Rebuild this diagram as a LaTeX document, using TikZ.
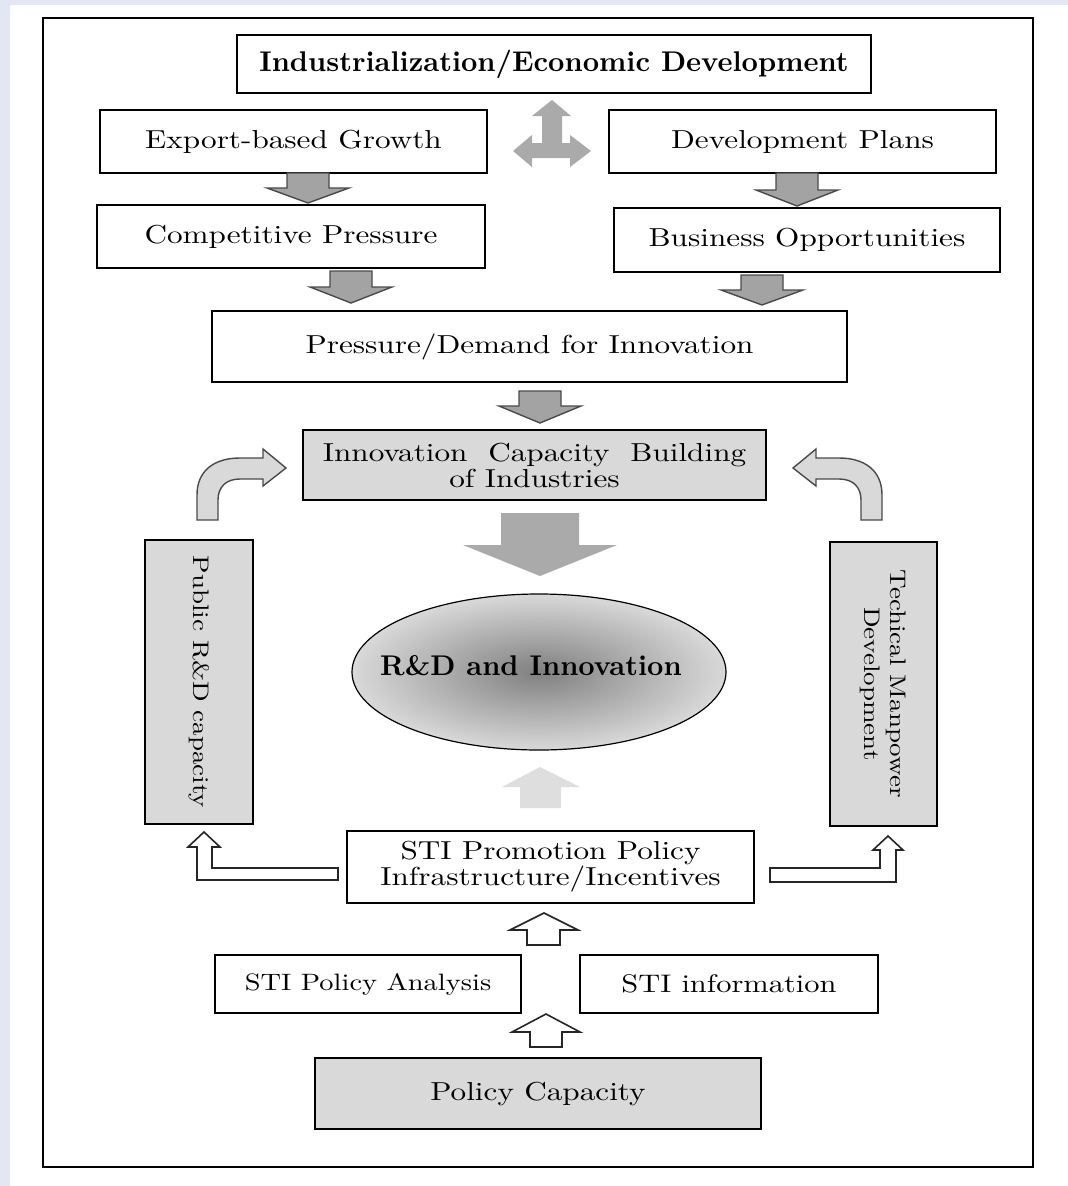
\documentclass[tikz,border=0pt]{standalone}
\usepackage{fontspec}
\setmainfont{lmroman10-regular.otf}[BoldFont=lmroman10-bold.otf, FakeStretch=1.2, BoldFeatures={FakeStretch=1.0}]
\usetikzlibrary{shapes.geometric}
\definecolor{boxgray}{HTML}{D9D9D9}
\definecolor{arrgray}{HTML}{A3A3A3}
\definecolor{arrline}{HTML}{4A4A4A}
\definecolor{lightarr}{HTML}{AAAAAA}
\definecolor{palearr}{HTML}{DEDEDE}
\definecolor{paleblue}{HTML}{E3E7F3}
\tikzset{
  box/.style={draw, line width=1.6pt, fill=white, align=center, inner sep=0pt,
    font=\fontsize{26}{26}\selectfont},
  graybox/.style={box, fill=boxgray},
  sidebox/.style={graybox, rotate=-90, font=\fontsize{22.5}{26}\selectfont},
  boldtext/.style={font=\bfseries\fontsize{28.5}{26}\selectfont},
  darkarrow/.style={fill=arrgray, draw=arrline, line width=1.4pt},
  hollow/.style={fill=white, draw=black!85, line width=1.6pt},
}
% gray block arrow pointing down: x, top, wing y, tip y
\newcommand{\downarr}[4]{%
  \draw[darkarrow] (#1-21,#2) -- (#1+21,#2) -- (#1+21,#3) -- (#1+41,#3) -- (#1,#4)
    -- (#1-41,#3) -- (#1-21,#3) -- cycle;}
% bent arrow, up then right
\newcommand{\bentarr}{%
  \draw[fill=boxgray, draw=arrline, line width=1.4pt] (197,520) -- (197,495)
    .. controls (197,470) and (215,458) .. (240,458) -- (263,458) -- (263,449)
    -- (286,468) -- (263,486) -- (263,479) -- (240,479)
    .. controls (226,479) and (218,487) .. (218,500) -- (218,520) -- cycle;}
\begin{document}
\begin{tikzpicture}[x=1pt, y=-1pt]
  \useasboundingbox (0,0) rectangle (1068,1186);
  \fill[white] (0,0) rectangle (1068,1186);
  \fill[paleblue] (0,0) rectangle (10,1186);
  \fill[paleblue] (0,0) rectangle (1068,5);
  \draw[line width=1.6pt] (43,18) rectangle (1033,1167);

  % top part
  \node[box, boldtext, minimum width=634, minimum height=58] (indus) at (554,64) {Industrialization/Economic Development};
  \node[box, minimum width=387, minimum height=63] (export) at (293.5,141.5) {Export-based Growth};
  \node[box, minimum width=387, minimum height=63] (devplan) at (802.5,141.5) {Development Plans};
  \node[box, minimum width=388, minimum height=63] (compet) at (291,236.5) {Competitive Pressure};
  \node[box, minimum width=386, minimum height=64] (business) at (807,240) {Business Opportunities};
  \node[box, minimum width=635, minimum height=71] (pressure) at (529.5,346.5) {Pressure/Demand for Innovation};
  \node[graybox, minimum width=463, minimum height=70] (capacity) at (534.5,465) {Innovation\ \ Capacity\ \ Building\\of Industries};

  \fill[lightarr] (552,100) -- (571,116) -- (562,116) -- (562,143) -- (570,143) -- (570,135) -- (591,151)
    -- (570,167) -- (570,158) -- (532,158) -- (532,167) -- (513,151) -- (532,135) -- (532,143)
    -- (542,143) -- (542,116) -- (532,116) -- cycle;

  \downarr{308}{173}{188}{203}
  \downarr{797}{173}{190}{206}
  \downarr{351}{271}{287}{303}
  \downarr{762}{275}{290}{305}
  \downarr{540}{391}{406}{423}

  % middle part
  \fill[lightarr] (501,513) -- (579,513) -- (579,545) -- (617,545) -- (540,576) -- (463,545) -- (501,545) -- cycle;
  \shade[draw, line width=1.2pt, inner color=black!50, outer color=black!15] (539,672) ellipse [x radius=187, y radius=78];
  \node[boldtext] (rd) at (531,666) {R\&D and Innovation};
  \fill[palearr] (540,767) -- (580,787) -- (561,787) -- (561,808) -- (520,808) -- (520,787) -- (502,787) -- cycle;

  \node[sidebox, minimum width=284, minimum height=108] (public) at (199,682) {Public R\&D capacity};
  \node[sidebox, minimum width=284, minimum height=107] (manpower) at (883.5,684) {Techical Manpower\\Development};
  \bentarr
  \begin{scope}[xshift=1079pt, xscale=-1]
    \bentarr
  \end{scope}

  % bottom part
  \node[box, minimum width=407, minimum height=72] (promo) at (550.5,867) {STI Promotion Policy\\Infrastructure/Incentives};
  \draw[hollow] (338,868) -- (212,868) -- (212,847) -- (220,847) -- (204,832) -- (188,847) -- (197,847) -- (197,880) -- (338,880) -- cycle;
  \draw[hollow] (770,868) -- (880,868) -- (880,850) -- (873,850) -- (888,836) -- (903,850) -- (896,850) -- (896,882) -- (770,882) -- cycle;
  \draw[hollow] (544,913) -- (578,930) -- (560,930) -- (560,945) -- (527,945) -- (527,930) -- (510,930) -- cycle;
  \node[box, minimum width=306, minimum height=58, font=\fontsize{23.7}{26}\selectfont] (analysis) at (368,984) {STI Policy Analysis};
  \node[box, minimum width=298, minimum height=58, font=\fontsize{25.4}{26}\selectfont] (info) at (729,984) {STI information};
  \draw[hollow] (546,1014) -- (580,1032) -- (562,1032) -- (562,1047) -- (530,1047) -- (530,1032) -- (512,1032) -- cycle;
  \node[graybox, minimum width=446, minimum height=71] (policy) at (538,1093.5) {Policy Capacity};
\end{tikzpicture}
\end{document}
